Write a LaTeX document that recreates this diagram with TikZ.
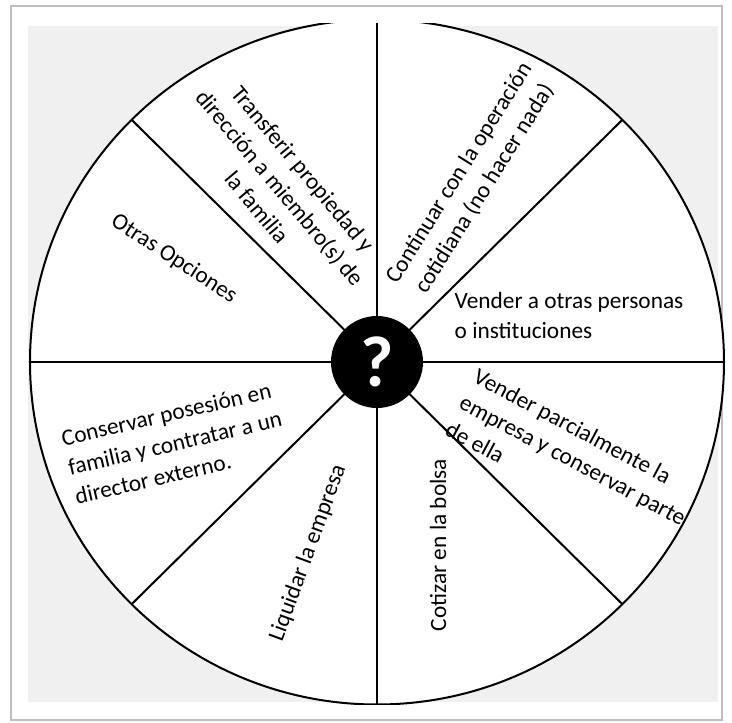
\documentclass[tikz,border=0pt]{standalone}
\usepackage{fontspec}
\setmainfont{Carlito}

\begin{document}
\begin{tikzpicture}[x=0.75pt,y=0.75pt,
    option/.style={font=\fontsize{17.5}{22.5}\selectfont, inner sep=0pt},
    spoke/.style={black, line width=1.5pt}]
            \useasboundingbox (-377,-361) rectangle (355,362);
            \draw[gray!50, line width=0.9pt] (-366,-358) rectangle (345,356);
            \fill[black!6] (-349,-340) rectangle (341,336);

            \begin{scope}
                \clip (-357,-343) rectangle (351,338);
                \fill[white] (0,0) ellipse [x radius=347, y radius=342.5];
                \draw[spoke] (0,0) ellipse [x radius=347, y radius=342.5];
                \foreach \a in {0,45,...,315}
                    \draw[spoke] (0,0) -- (\a:347 and 342.5);
            \end{scope}

            \node[circle, fill=black, minimum size=69pt, inner sep=0pt, text=white,
                  font=\bfseries\fontsize{54}{54}\selectfont] (q) at (0,0) {?};

            \node[option, align=left] (sell) at (192,47) {Vender a otras personas\\o instituciones};
            \node[option, align=center, rotate=58] (keep) at (95,181) {Continuar con la operación\\cotidiana (no hacer nada)};
            \node[option, align=center, rotate=-50] (transfer) at (-97,174) {Transferir propiedad y\\dirección a miembro(s) de\\la familia};
            \node[option, rotate=-33] (other) at (-203,103) {Otras Opciones};
            \node[option, align=left, rotate=13] (hire) at (-202,-81) {Conservar posesión en\\familia y contratar a un\\director externo.};
            \node[option, rotate=70] (liquidate) at (-69,-191) {Liquidar la empresa};
            \node[option, rotate=90] (listing) at (61,-183) {Cotizar en la bolsa};
            \node[option, align=left, rotate=-28] (partial) at (196,-98) {Vender parcialmente la\\empresa y conservar parte\\de ella};
        \end{tikzpicture}
\end{document}
